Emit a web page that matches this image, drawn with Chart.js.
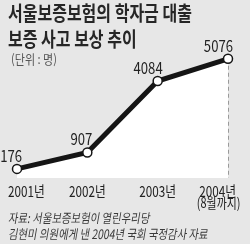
<!DOCTYPE html>
<html>
<head>
<meta charset="utf-8">
<script src="https://cdn.jsdelivr.net/npm/chart.js@4"></script>
<style>
  html, body { margin: 0; padding: 0; }
  body { width: 250px; height: 244px; background: #e7e7e7; position: relative; overflow: hidden;
         font-family: "Noto Sans CJK KR", "Noto Sans", sans-serif; }
  #chart { position: absolute; left: 0; top: 0; }
  .t { position: absolute; white-space: nowrap; transform-origin: 0 0; }
  .title { left: 8px; font-size: 20px; font-weight: bold; color: #262626; transform: scaleX(0.8); line-height: 20px; }
  .unit { left: 11px; top: 49px; font-size: 13px; color: #555; transform: scaleX(0.85); }
  .src { left: 10px; font-size: 13px; color: #3a3a3a; transform: scaleX(0.8) skewX(-12deg); line-height: 14px; }
</style>
</head>
<body>
<canvas id="chart" width="250" height="244"></canvas>
<div class="t title" style="top:3px">서울보증보험의 학자금 대출</div>
<div class="t title" style="top:29px">보증 사고 보상 추이</div>
<div class="t unit">(단위 : 명)</div>
<div class="t src" style="top:211px">자료: 서울보증보험이 열린우리당</div>
<div class="t src" style="top:227px">김현미 의원에게 낸 2004년 국회 국정감사 자료</div>
<script>
const years = ['2001년', '2002년', '2003년', ['2004년', '(8월까지)']]
const claims = [176, 907, 4084, 5076]

// dashed drop lines, value labels and year labels, all from the scales
const annotate = {
  id: 'annotate',
  beforeDatasetsDraw(chart) {
    const ctx = chart.ctx
    const meta = chart.getDatasetMeta(0)
    const bottom = chart.chartArea.bottom
    ctx.save()
    ctx.strokeStyle = '#9a9a9a'
    ctx.lineWidth = 1
    ctx.setLineDash([4, 3])
    meta.data.forEach(pt => {
      const x = Math.round(pt.x) + 0.5
      ctx.beginPath()
      ctx.moveTo(x, pt.y)
      ctx.lineTo(x, bottom)
      ctx.stroke()
    })
    ctx.restore()
  },
  afterDatasetsDraw(chart) {
    const ctx = chart.ctx
    const meta = chart.getDatasetMeta(0)
    const W = chart.width
    ctx.save()
    ctx.fillStyle = '#222'
    meta.data.forEach((pt, i) => {
      // value
      ctx.save()
      ctx.font = '16px "Noto Sans CJK KR", sans-serif'
      ctx.textAlign = 'right'
      ctx.textBaseline = 'alphabetic'
      ctx.translate(pt.x + 5, pt.y - 7)
      ctx.scale(0.82, 1)
      ctx.fillText(claims[i].toString(), 0, 0)
      ctx.restore()
      // year
      const lines = [].concat(years[i])
      ctx.font = '15px "Noto Sans CJK KR", sans-serif'
      const half = ctx.measureText(lines[0]).width * 0.78 / 2
      const cx = Math.min(Math.max(pt.x, half + 8), W - half - 14)
      lines.forEach((s, j) => {
        ctx.save()
        ctx.font = j ? '14px "Noto Sans CJK KR", sans-serif' : '15px "Noto Sans CJK KR", sans-serif'
        ctx.textAlign = 'center'
        ctx.textBaseline = 'alphabetic'
        ctx.translate(cx + j, 197 + j * 11)
        ctx.scale(0.78, 1)
        ctx.fillText(s, 0, 0)
        ctx.restore()
      })
    })
    ctx.restore()
  }
}

new Chart(document.getElementById('chart'), {
  type: 'line',
  data: {
    labels: years,
    datasets: [{
      data: claims,
      borderColor: '#151515',
      borderWidth: 5,
      backgroundColor: '#ffffff',
      fill: 'start',
      tension: 0,
      clip: false,
      pointRadius: 4.5,
      pointBorderWidth: 1.5,
      pointBackgroundColor: '#ffffff',
      pointBorderColor: '#151515'
    }]
  },
  options: {
    responsive: false,
    animation: false,
    layout: { padding: { left: 17, right: 22, top: 38, bottom: 66 } },
    plugins: { legend: { display: false }, tooltip: { enabled: false } },
    scales: {
      x: { display: false },
      y: { display: false, min: -230, max: 6000 }
    }
  },
  plugins: [annotate]
})
</script>
</body>
</html>
